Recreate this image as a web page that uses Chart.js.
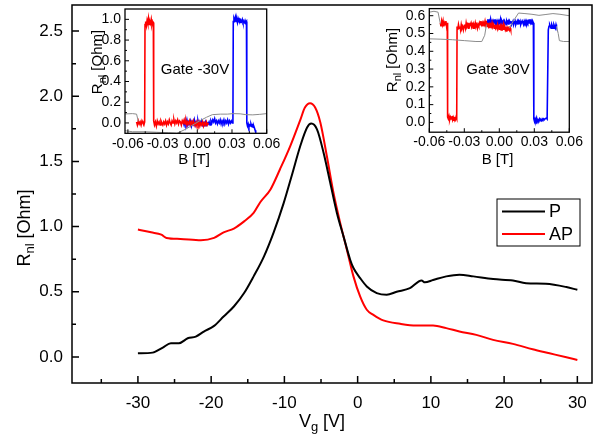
<!DOCTYPE html>
<html>
<head>
<meta charset="utf-8">
<script src="https://cdn.jsdelivr.net/npm/chart.js@4.4.0/dist/chart.umd.min.js"></script>
<style>
  body { margin: 0; background: #fff; }
  #wrap { position: relative; width: 598px; height: 442px; overflow: hidden; }
  canvas { position: absolute; }
</style>
</head>
<body>
<div id="wrap">
  <canvas id="main" width="598" height="442" style="left:0;top:0"></canvas>
  <canvas id="ins1" width="200" height="172" style="left:88px;top:0"></canvas>
  <canvas id="ins2" width="212" height="172" style="left:378px;top:0"></canvas>
</div>
<script>
// main curves, Rnl vs gate voltage
const pVg = [-30, -28.0, -26.6, -25.5, -24.4, -23.2, -22.1, -21.0, -19.6, -18.3, -16.9, -15.5, -14.2, -12.8, -11.5, -10.1, -8.95, -7.82, -6.9, -6.33, -5.55, -4.65, -3.74, -2.83, -1.93, -1.02, -0.57, 0.34, 1.25, 2.61, 3.97, 5.33, 7.14, 8.73, 9.18, 10.3, 12.1, 13.9, 15.8, 18.5, 21.2, 23.0, 25.7, 28.5, 30.0];
const pR = [0.028, 0.033, 0.072, 0.105, 0.105, 0.143, 0.156, 0.195, 0.238, 0.31, 0.387, 0.49, 0.618, 0.77, 0.95, 1.18, 1.40, 1.62, 1.76, 1.79, 1.746, 1.567, 1.336, 1.105, 0.925, 0.746, 0.682, 0.605, 0.541, 0.49, 0.477, 0.50, 0.528, 0.587, 0.572, 0.59, 0.618, 0.631, 0.618, 0.597, 0.587, 0.566, 0.561, 0.536, 0.515];
const apVg = [-30, -28.2, -26.8, -26.1, -24.2, -21.4, -19.6, -18.3, -16.9, -15.5, -14.2, -13.3, -11.9, -10.6, -9.2, -7.8, -7.2, -6.5, -5.8, -5.1, -4.2, -3.3, -2.38, -1.47, -0.57, 0.34, 1.25, 2.15, 3.5, 5.8, 8.0, 10.3, 12.1, 13.9, 16.2, 18.5, 21.2, 23.9, 26.2, 28.5, 30.0];
const apR = [0.977, 0.956, 0.938, 0.913, 0.905, 0.895, 0.913, 0.956, 0.985, 1.04, 1.105, 1.187, 1.285, 1.44, 1.618, 1.823, 1.913, 1.946, 1.913, 1.80, 1.54, 1.26, 1.028, 0.823, 0.618, 0.464, 0.362, 0.323, 0.28, 0.254, 0.241, 0.241, 0.221, 0.195, 0.169, 0.131, 0.10, 0.059, 0.028, -0.003, -0.023];
const mainXTicks = [-30, -20, -10, 0, 10, 20, 30];
const mainXMinor = [-35, -25, -15, -5, 5, 15, 25];
const mainYTicks = [0, 0.5, 1.0, 1.5, 2.0, 2.5];
const mainYMinor = [0.25, 0.75, 1.25, 1.75, 2.25];

// inset 1: Gate -30V, [B, R]
const ins1Red = [
  [-0.0525,0.01],[-0.0518,-0.02],[-0.0510,0.02],[-0.0502,-0.01],[-0.0494,0.01],[-0.0486,-0.02],[-0.0478,0.02],[-0.0470,0.00],[-0.0462,-0.02],[-0.0455,0.01],
  [-0.0452,0.95],[-0.0446,0.98],[-0.0440,0.94],[-0.0434,0.99],[-0.0428,0.96],[-0.0422,1.01],[-0.0416,0.95],[-0.0410,0.98],[-0.0404,0.96],[-0.0398,1.00],[-0.0392,0.95],[-0.0386,0.98],[-0.0380,0.97],
  [-0.0377,0.02],[-0.0370,-0.02],[-0.0362,0.01],[-0.0354,-0.03],[-0.0346,0.02],[-0.0338,-0.01],[-0.0330,0.01],[-0.0322,-0.02],[-0.0314,0.02],[-0.0306,0.00],[-0.0298,-0.02],[-0.0290,0.01],[-0.0282,-0.01],[-0.0274,0.02],[-0.0266,-0.02],[-0.0258,0.01],[-0.0250,-0.01],[-0.0242,0.03],[-0.0234,0.00],[-0.0226,-0.02],[-0.0218,0.02],[-0.0210,0.00],[-0.0202,0.03],[-0.0194,-0.01],[-0.0186,0.02],[-0.0178,0.00],[-0.0170,0.03],[-0.0162,-0.01],[-0.0154,0.02],[-0.0146,0.01],[-0.0138,-0.02],[-0.0130,0.02],[-0.0122,0.00],[-0.0114,0.03],[-0.0106,-0.01],[-0.0098,0.02],[-0.0090,-0.02],[-0.0082,0.01],[-0.0074,-0.01],[-0.0066,0.02],[-0.0058,-0.02],[-0.0050,0.01],[-0.0042,-0.01],[-0.0034,0.02],[-0.0026,-0.02],[-0.0018,0.00],[-0.0010,-0.03],[-0.0002,0.01],[0.0006,-0.02],[0.0014,0.01],[0.0022,-0.03],[0.0030,0.00],[0.0038,-0.02],[0.0046,0.01],[0.0054,-0.03],[0.0062,0.00],[0.0070,-0.02],[0.0078,0.01],[0.0086,-0.02],[0.0095,0.00]
];
const ins1Blue = [
  [-0.0122,0.01],[-0.0114,-0.02],[-0.0106,0.02],[-0.0098,-0.01],[-0.0090,0.03],[-0.0082,-0.02],[-0.0074,0.01],[-0.0066,-0.01],[-0.0058,0.02],[-0.0050,-0.03],[-0.0042,0.01],[-0.0034,-0.01],[-0.0026,0.03],[-0.0018,-0.02],[-0.0010,0.01],[-0.0002,-0.01],[0.0006,0.02],[0.0014,-0.02],[0.0022,0.01],[0.0030,-0.01],[0.0038,0.02],[0.0046,-0.02],[0.0054,0.00],[0.0062,-0.02],[0.0070,0.01],[0.0078,-0.02],[0.0086,0.00],[0.0094,-0.01],[0.0102,0.01],[0.0110,-0.02],[0.0118,0.02],[0.0126,0.00],[0.0134,0.03],[0.0142,0.01],[0.0150,0.04],[0.0158,0.00],[0.0166,0.02],[0.0174,-0.01],[0.0182,0.02],[0.0190,0.00],[0.0198,0.03],[0.0206,-0.01],[0.0214,0.02],[0.0222,0.00],[0.0230,0.03],[0.0238,-0.01],[0.0246,0.02],[0.0254,0.00],[0.0262,0.03],[0.0270,-0.01],[0.0278,0.02],[0.0286,0.00],[0.0294,0.02],[0.0302,0.00],[0.0308,0.01],
  [0.0311,0.98],[0.0317,1.01],[0.0323,0.99],[0.0329,1.02],[0.0335,0.98],[0.0341,1.00],[0.0347,0.97],[0.0353,1.01],[0.0359,0.99],[0.0365,1.00],[0.0371,0.97],[0.0377,0.99],[0.0383,0.98],[0.0389,1.00],[0.0395,0.97],[0.0401,0.98],[0.0407,0.97],[0.0413,0.99],[0.0419,0.97],[0.0425,0.98],
  [0.0428,0.00],[0.0434,-0.03],[0.0440,-0.01],[0.0446,-0.04],[0.0452,-0.02],[0.0458,-0.03],[0.0464,-0.01],[0.0470,-0.03],[0.0476,-0.02],[0.0482,-0.04],[0.0488,-0.03],[0.0494,-0.05],[0.0500,-0.07],[0.0505,-0.09]
];
const ins1GrayA = [[-0.0625,0.087],[-0.056,0.09],[-0.0525,0.085],[-0.051,0.015]];
const ins1GrayB = [[-0.0625,-0.075],[-0.056,-0.085],[-0.045,-0.085],[-0.035,-0.09],[-0.025,-0.095],[-0.018,-0.1]];
const ins1GrayC = [[-0.0175,-0.1],[-0.01,-0.06],[-0.004,-0.02],[0.002,0.02],[0.008,0.055],[0.013,0.08],[0.02,0.085],[0.026,0.085],[0.031,0.09],[0.037,0.088],[0.042,0.08],[0.048,0.078],[0.054,0.083],[0.06,0.09]];
const ins1XTicks = [-0.06, -0.03, 0, 0.03, 0.06];
const ins1YTicks = [0, 0.2, 0.4, 0.6, 0.8, 1.0];

// inset 2: Gate 30V
const ins2Red = [
  [-0.0505,0.56],[-0.0500,0.54],[-0.0494,0.57],[-0.0488,0.55],[-0.0482,0.57],[-0.0476,0.54],[-0.0470,0.56],[-0.0464,0.55],[-0.0458,0.57],[-0.0452,0.54],[-0.0446,0.56],
  [-0.0443,0.03],[-0.0437,0.02],[-0.0431,0.035],[-0.0425,0.015],[-0.0419,0.03],[-0.0413,0.02],[-0.0407,0.035],[-0.0401,0.015],[-0.0395,0.03],[-0.0389,0.02],[-0.0383,0.025],[-0.0377,0.015],[-0.0371,0.03],[-0.0365,0.02],
  [-0.0362,0.54],[-0.0356,0.52],[-0.0350,0.55],[-0.0344,0.53],[-0.0338,0.54],[-0.0332,0.52],[-0.0326,0.55],[-0.0320,0.53],[-0.0314,0.54],[-0.0308,0.52],[-0.0302,0.54],[-0.0296,0.55],[-0.0290,0.53],[-0.0284,0.56],[-0.0278,0.54],[-0.0272,0.55],[-0.0266,0.53],[-0.0260,0.56],[-0.0254,0.54],[-0.0248,0.55],[-0.0242,0.56],[-0.0236,0.54],[-0.0230,0.55],[-0.0224,0.53],[-0.0218,0.55],[-0.0212,0.54],[-0.0206,0.56],[-0.0200,0.54],[-0.0194,0.55],[-0.0188,0.53],[-0.0182,0.55],[-0.0176,0.54],[-0.0170,0.56],[-0.0164,0.55],[-0.0158,0.57],[-0.0152,0.55],[-0.0146,0.56],[-0.0140,0.54],[-0.0134,0.56],[-0.0128,0.55],[-0.0122,0.57],[-0.0116,0.55],[-0.0110,0.56],[-0.0104,0.54],[-0.0098,0.56],[-0.0092,0.54],[-0.0086,0.55],[-0.0080,0.53],[-0.0074,0.55],[-0.0068,0.54],[-0.0062,0.56],[-0.0056,0.54],[-0.0050,0.55],[-0.0044,0.53],[-0.0038,0.55],[-0.0032,0.53],[-0.0026,0.54],[-0.0020,0.53],[-0.0014,0.55],[-0.0008,0.53],[-0.0002,0.54],[0.0004,0.52],[0.0010,0.54],[0.0016,0.52],[0.0022,0.54],[0.0028,0.53],[0.0034,0.55],[0.0040,0.52],[0.0046,0.54],[0.0052,0.52],[0.0058,0.53],[0.0064,0.51],[0.0070,0.53],[0.0076,0.52],[0.0082,0.54],[0.0088,0.52],[0.0094,0.53],[0.0098,0.52]
];
const ins2Blue = [
  [-0.0110,0.57],[-0.0104,0.55],[-0.0098,0.58],[-0.0092,0.56],[-0.0086,0.57],[-0.0080,0.55],[-0.0074,0.58],[-0.0068,0.56],[-0.0062,0.57],[-0.0056,0.55],[-0.0050,0.57],[-0.0044,0.56],[-0.0038,0.58],[-0.0032,0.55],[-0.0026,0.57],[-0.0020,0.56],[-0.0014,0.57],[-0.0008,0.55],[-0.0002,0.57],[0.0004,0.56],[0.0010,0.58],[0.0016,0.55],[0.0022,0.57],[0.0028,0.56],[0.0034,0.57],[0.0040,0.55],[0.0046,0.57],[0.0052,0.56],[0.0058,0.55],[0.0064,0.57],[0.0070,0.56],[0.0076,0.57],[0.0082,0.55],[0.0088,0.57],[0.0094,0.56],[0.0100,0.57],[0.0106,0.55],[0.0112,0.56],[0.0118,0.57],[0.0124,0.55],[0.0130,0.56],[0.0136,0.57],[0.0142,0.55],[0.0148,0.56],[0.0154,0.57],[0.0160,0.55],[0.0166,0.57],[0.0172,0.56],[0.0178,0.57],[0.0184,0.55],[0.0190,0.56],[0.0196,0.57],[0.0202,0.56],[0.0208,0.55],[0.0214,0.57],[0.0220,0.56],[0.0226,0.57],[0.0232,0.55],[0.0238,0.57],[0.0244,0.56],[0.0250,0.57],[0.0256,0.56],[0.0262,0.58],[0.0268,0.56],[0.0274,0.57],[0.0280,0.55],[0.0286,0.57],[0.0292,0.56],
  [0.0296,0.02],[0.0302,0.005],[0.0308,0.02],[0.0314,0.01],[0.0320,0.025],[0.0326,0.005],[0.0332,0.015],[0.0338,0.01],[0.0344,0.02],[0.0350,0.01],[0.0356,0.015],[0.0362,0.01],[0.0368,0.02],[0.0374,0.015],[0.0380,0.02],[0.0386,0.015],[0.0392,0.02],[0.0398,0.02],[0.0404,0.025],[0.0410,0.02],[0.0416,0.02],
  [0.0420,0.52],[0.0426,0.54],[0.0432,0.55],[0.0438,0.54],[0.0444,0.53],[0.0450,0.55],[0.0456,0.54],[0.0462,0.53],[0.0468,0.55],[0.0474,0.54],[0.0480,0.53],[0.0486,0.55],[0.0490,0.54]
];
const ins2GrayA = [[-0.06,0.62],[-0.056,0.625],[-0.0525,0.62],[-0.051,0.57],[-0.0505,0.555]];
const ins2GrayB = [[-0.06,0.47],[-0.05,0.468],[-0.04,0.465],[-0.03,0.46],[-0.02,0.455],[-0.015,0.455],[-0.0125,0.49],[-0.011,0.55]];
const ins2GrayC = [[0.0085,0.53],[0.012,0.57],[0.0165,0.615],[0.022,0.612],[0.028,0.608],[0.034,0.602],[0.040,0.607],[0.046,0.612],[0.052,0.608],[0.06,0.60]];
const ins2GrayD = [[0.049,0.54],[0.0505,0.50],[0.0515,0.46],[0.055,0.455],[0.06,0.455]];
const ins2XTicks = [-0.06, -0.03, 0, 0.03, 0.06];
const ins2YTicks = [0, 0.1, 0.2, 0.3, 0.4, 0.5, 0.6];

const FONT = '"Liberation Sans", Arial, sans-serif';

function pts(xs, ys) { return xs.map((x, i) => ({ x: x, y: ys[i] })); }
function pairs(arr) { return arr.map(p => ({ x: p[0], y: p[1] })); }

// text with subscript parts, centered at (cx, cy)
function drawParts(ctx, parts, cx, cy, size, rot) {
  ctx.save();
  ctx.translate(cx, cy);
  ctx.rotate(rot);
  ctx.textBaseline = 'middle';
  ctx.textAlign = 'left';
  const big = size + 'px ' + FONT;
  const small = Math.round(size * 0.7) + 'px ' + FONT;
  const widths = parts.map(p => { ctx.font = p[1] ? small : big; return ctx.measureText(p[0]).width; });
  let xx = -widths.reduce((s, w) => s + w, 0) / 2;
  parts.forEach((p, i) => {
    ctx.font = p[1] ? small : big;
    ctx.fillText(p[0], xx, p[1] ? size * 0.32 : 0);
    xx += widths[i];
  });
  ctx.restore();
}

function makeFrame(cfg) {
  return {
    id: 'frame',
    afterDraw(chart) {
      const ctx = chart.ctx, a = chart.chartArea;
      const sx = chart.scales.x, sy = chart.scales.y;
      ctx.save();
      ctx.strokeStyle = '#000';
      ctx.lineWidth = cfg.border;
      ctx.strokeRect(a.left, a.top, a.right - a.left, a.bottom - a.top);
      ctx.lineWidth = cfg.tickWidth;
      ctx.beginPath();
      cfg.xMajor.forEach(v => { const p = sx.getPixelForValue(v); ctx.moveTo(p, a.bottom); ctx.lineTo(p, a.bottom - cfg.major); });
      cfg.xMinor.forEach(v => { const p = sx.getPixelForValue(v); ctx.moveTo(p, a.bottom); ctx.lineTo(p, a.bottom - cfg.minor); });
      cfg.yMajor.forEach(v => { const p = sy.getPixelForValue(v); ctx.moveTo(a.left, p); ctx.lineTo(a.left + cfg.major, p); });
      cfg.yMinor.forEach(v => { const p = sy.getPixelForValue(v); ctx.moveTo(a.left, p); ctx.lineTo(a.left + cfg.minor, p); });
      ctx.stroke();
      ctx.fillStyle = '#000';
      drawParts(ctx, cfg.xTitle, cfg.xTitleAt[0], cfg.xTitleAt[1], cfg.titleSize, 0);
      drawParts(ctx, cfg.yTitle, cfg.yTitleAt[0], cfg.yTitleAt[1], cfg.titleSize, -Math.PI / 2);
      if (cfg.note) {
        ctx.font = cfg.note.size + 'px ' + FONT;
        ctx.textAlign = 'center';
        ctx.textBaseline = 'middle';
        ctx.fillText(cfg.note.text, cfg.note.x, cfg.note.y);
      }
      if (cfg.legend) {
        const L = cfg.legend;
        ctx.lineWidth = 1;
        ctx.strokeRect(L.x, L.y, L.w, L.h);
        ctx.font = L.size + 'px ' + FONT;
        ctx.textAlign = 'left';
        ctx.textBaseline = 'middle';
        chart.data.datasets.forEach((ds, i) => {
          const yy = L.y + L.first + i * L.step;
          ctx.strokeStyle = ds.borderColor;
          ctx.lineWidth = 2;
          ctx.beginPath();
          ctx.moveTo(L.x + 5, yy);
          ctx.lineTo(L.x + 48, yy);
          ctx.stroke();
          ctx.fillText(ds.label, L.x + 52, yy + 1);
        });
      }
      ctx.restore();
    }
  };
}

function axis(min, max, ticks, fmt, size, pad, fitKey, fitVal) {
  return {
    type: 'linear', min: min, max: max,
    grid: { display: false, drawTicks: false },
    border: { display: false },
    afterBuildTicks: s => { s.ticks = ticks.map(v => ({ value: v })); },
    afterFit: s => {
      s[fitKey] = fitVal;
      // no extra room for the end labels, the box is placed by layout padding
      s.paddingTop = 0; s.paddingBottom = 0; s.paddingLeft = 0; s.paddingRight = 0;
    },
    ticks: {
      autoSkip: false, maxRotation: 0, minRotation: 0, padding: pad, color: '#000',
      font: { family: FONT, size: size },
      callback: v => fmt(v)
    }
  };
}

function lineDs(label, data, color, width) {
  return {
    label: label, data: data, borderColor: color, borderWidth: width,
    pointRadius: 0, fill: false, tension: 0
  };
}

const base = {
  responsive: false, animation: false, devicePixelRatio: 1,
  plugins: { legend: { display: false }, tooltip: { enabled: false } },
  events: []
};

// main chart
new Chart(document.getElementById('main'), {
  type: 'line',
  data: {
    datasets: [
      Object.assign(lineDs('P', pts(pVg, pR), '#000000', 2), { cubicInterpolationMode: 'monotone' }),
      Object.assign(lineDs('AP', pts(apVg, apR), '#ff0000', 2), { cubicInterpolationMode: 'monotone' })
    ]
  },
  options: Object.assign({}, base, {
    layout: { padding: { left: 0, right: 6, top: 5, bottom: 0 } },
    scales: {
      x: axis(-39, 32, mainXTicks, v => String(v), 17, 10, 'height', 59),
      y: axis(-0.2, 2.7, mainYTicks, v => v.toFixed(1), 17, 9, 'width', 72)
    }
  }),
  plugins: [makeFrame({
    border: 1.5, tickWidth: 1.5, major: 7, minor: 4,
    xMajor: mainXTicks, xMinor: mainXMinor, yMajor: mainYTicks, yMinor: mainYMinor,
    titleSize: 18,
    xTitle: [['V', false], ['g', true], [' [V]', false]], xTitleAt: [322, 422],
    yTitle: [['R', false], ['nl', true], [' [Ohm]', false]], yTitleAt: [25, 228],
    legend: { x: 497, y: 199, w: 83, h: 47, first: 12.5, step: 22.5, size: 18 }
  })]
});

// inset 1
new Chart(document.getElementById('ins1'), {
  type: 'line',
  data: {
    datasets: [
      lineDs('g1', pairs(ins1GrayA), '#8c8c8c', 1),
      lineDs('g2', pairs(ins1GrayB), '#8c8c8c', 1),
      lineDs('g3', pairs(ins1GrayC), '#8c8c8c', 1),
      lineDs('red', pairs(ins1Red), '#ff0000', 1.6),
      lineDs('blue', pairs(ins1Blue), '#0000ff', 1.6)
    ]
  },
  options: Object.assign({}, base, {
    layout: { padding: { left: 0, right: 21.3, top: 9, bottom: 0 } },
    scales: {
      x: axis(-0.0625, 0.06, ins1XTicks, v => v.toFixed(2), 14, 2, 'height', 38.7),
      y: axis(-0.1, 1.1, ins1YTicks, v => v.toFixed(1), 14, 4, 'width', 37)
    }
  }),
  plugins: [makeFrame({
    border: 1.3, tickWidth: 1, major: 4, minor: 2,
    xMajor: ins1XTicks, xMinor: [-0.045, -0.015, 0.015, 0.045], yMajor: ins1YTicks, yMinor: [0.1, 0.3, 0.5, 0.7, 0.9],
    titleSize: 15,
    xTitle: [['B [T]', false]], xTitleAt: [106, 160],
    yTitle: [['R', false], ['nl', true], [' [Ohm]', false]], yTitleAt: [10, 62],
    note: { text: 'Gate -30V', x: 107, y: 70, size: 15 }
  })]
});

// inset 2
new Chart(document.getElementById('ins2'), {
  type: 'line',
  data: {
    datasets: [
      lineDs('g1', pairs(ins2GrayA), '#8c8c8c', 1),
      lineDs('g2', pairs(ins2GrayB), '#8c8c8c', 1),
      lineDs('g3', pairs(ins2GrayC), '#8c8c8c', 1),
      lineDs('g4', pairs(ins2GrayD), '#8c8c8c', 1),
      lineDs('red', pairs(ins2Red), '#ff0000', 1.6),
      lineDs('blue', pairs(ins2Blue), '#0000ff', 1.6)
    ]
  },
  options: Object.assign({}, base, {
    layout: { padding: { left: 0, right: 20.7, top: 8.6, bottom: 0 } },
    scales: {
      x: axis(-0.06, 0.06, ins2XTicks, v => v.toFixed(2), 14, 2, 'height', 39.8),
      y: axis(-0.055, 0.64, ins2YTicks, v => v.toFixed(1), 14, 4, 'width', 51.3)
    }
  }),
  plugins: [makeFrame({
    border: 1.3, tickWidth: 1, major: 4, minor: 2,
    xMajor: ins2XTicks, xMinor: [-0.045, -0.015, 0.015, 0.045], yMajor: ins2YTicks, yMinor: [0.05, 0.15, 0.25, 0.35, 0.45, 0.55],
    titleSize: 15,
    xTitle: [['B [T]', false]], xTitleAt: [119.5, 160],
    yTitle: [['R', false], ['nl', true], [' [Ohm]', false]], yTitleAt: [15, 60],
    note: { text: 'Gate 30V', x: 120, y: 70, size: 15 }
  })]
});
</script>
</body>
</html>
